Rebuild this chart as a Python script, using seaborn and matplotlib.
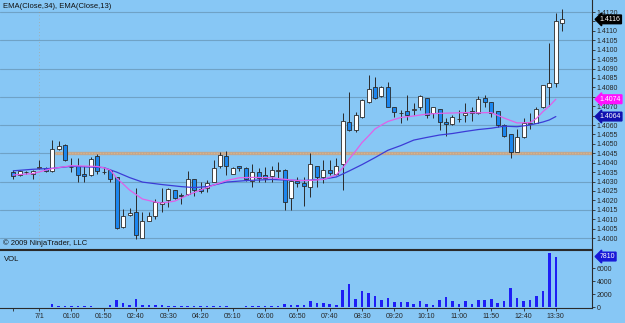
import numpy as np
import pandas as pd
import seaborn as sns
import matplotlib.pyplot as plt
import matplotlib.transforms as mtransforms

# 10-minute bars, 23:30 (prev day) .. 13:40
opens = [1.40352, 1.40333, 1.40350, 1.40340, 1.40370, 1.40373, 1.40356, 1.40473, 1.40492, 1.40379,
         1.40381, 1.40340, 1.40335, 1.40434, 1.40352, 1.40359, 1.40322, 1.40060, 1.40121, 1.40140,
         1.40002, 1.40092, 1.40118, 1.40181, 1.40202, 1.40255, 1.40226, 1.40232, 1.40313, 1.40260,
         1.40264, 1.40299, 1.40382, 1.40435, 1.40341, 1.40381, 1.40373, 1.40303, 1.40352, 1.40335,
         1.40331, 1.40358, 1.40361, 1.40211, 1.40304, 1.40294, 1.40272, 1.40382, 1.40322, 1.40361,
         1.40340, 1.40393, 1.40614, 1.40573, 1.40641, 1.40722, 1.40800, 1.40752, 1.40803, 1.40694,
         1.40664, 1.40673, 1.40682, 1.40694, 1.40742, 1.40662, 1.40683, 1.40616, 1.40604, 1.40634,
         1.40653, 1.40674, 1.40662, 1.40742, 1.40721, 1.40674, 1.40600, 1.40552, 1.40458, 1.40535,
         1.40608, 1.40612, 1.40694, 1.40800, 1.40821, 1.41143]
highs = [1.40360, 1.40362, 1.40357, 1.40360, 1.40414, 1.40376, 1.40522, 1.40515, 1.40497, 1.40425,
         1.40423, 1.40381, 1.40430, 1.40446, 1.40379, 1.40365, 1.40325, 1.40154, 1.40158, 1.40264,
         1.40136, 1.40136, 1.40207, 1.40264, 1.40264, 1.40257, 1.40237, 1.40356, 1.40316, 1.40299,
         1.40308, 1.40414, 1.40458, 1.40462, 1.40376, 1.40384, 1.40376, 1.40391, 1.40370, 1.40379,
         1.40384, 1.40402, 1.40365, 1.40306, 1.40326, 1.40326, 1.40450, 1.40385, 1.40414, 1.40414,
         1.40423, 1.40662, 1.40774, 1.40671, 1.40736, 1.40866, 1.40857, 1.40805, 1.40830, 1.40697,
         1.40680, 1.40759, 1.40718, 1.40757, 1.40745, 1.40698, 1.40686, 1.40639, 1.40652, 1.40680,
         1.40715, 1.40694, 1.40754, 1.40759, 1.40724, 1.40677, 1.40603, 1.40555, 1.40577, 1.40636,
         1.40662, 1.40697, 1.40815, 1.41037, 1.41193, 1.41214]
lows = [1.40313, 1.40328, 1.40341, 1.40313, 1.40365, 1.40349, 1.40350, 1.40466, 1.40408, 1.40352,
        1.40296, 1.40296, 1.40330, 1.40340, 1.40340, 1.40296, 1.40050, 1.40052, 1.40118, 1.39995,
        1.39998, 1.40090, 1.40101, 1.40136, 1.40166, 1.40208, 1.40179, 1.40228, 1.40225, 1.40241,
        1.40246, 1.40296, 1.40373, 1.40335, 1.40338, 1.40356, 1.40303, 1.40271, 1.40297, 1.40299,
        1.40299, 1.40317, 1.40150, 1.40150, 1.40272, 1.40172, 1.40219, 1.40272, 1.40290, 1.40335,
        1.40335, 1.40255, 1.40570, 1.40564, 1.40636, 1.40718, 1.40738, 1.40749, 1.40694, 1.40644,
        1.40612, 1.40627, 1.40653, 1.40680, 1.40636, 1.40636, 1.40573, 1.40542, 1.40600, 1.40618,
        1.40618, 1.40621, 1.40659, 1.40694, 1.40641, 1.40591, 1.40535, 1.40423, 1.40455, 1.40530,
        1.40577, 1.40609, 1.40690, 1.40701, 1.40800, 1.41101]
closes = [1.40331, 1.40357, 1.40353, 1.40354, 1.40379, 1.40356, 1.40473, 1.40490, 1.40413, 1.40376,
          1.40335, 1.40331, 1.40421, 1.40357, 1.40349, 1.40313, 1.40052, 1.40118, 1.40131, 1.40016,
          1.40092, 1.40118, 1.40191, 1.40193, 1.40260, 1.40211, 1.40224, 1.40313, 1.40253, 1.40251,
          1.40290, 1.40373, 1.40441, 1.40382, 1.40373, 1.40370, 1.40312, 1.40352, 1.40320, 1.40320,
          1.40359, 1.40360, 1.40193, 1.40303, 1.40294, 1.40278, 1.40391, 1.40322, 1.40361, 1.40344,
          1.40382, 1.40621, 1.40573, 1.40652, 1.40733, 1.40793, 1.40742, 1.40802, 1.40697, 1.40671,
          1.40666, 1.40652, 1.40684, 1.40754, 1.40653, 1.40694, 1.40614, 1.40604, 1.40641, 1.40632,
          1.40662, 1.40662, 1.40736, 1.40724, 1.40662, 1.40600, 1.40542, 1.40458, 1.40535, 1.40609,
          1.40610, 1.40683, 1.40812, 1.40821, 1.41154, 1.41161]
volumes = [0, 0, 0, 0, 100, 0, 460, 250, 200, 150,
           250, 250, 150, 100, 50, 400, 1130, 600, 360, 1230,
           400, 360, 300, 400, 250, 200, 200, 250, 200, 150,
           150, 250, 250, 250, 0, 0, 200, 250, 150, 150,
           150, 250, 510, 400, 360, 430, 950, 610, 670, 460,
           360, 2620, 3640, 1280, 2510, 2260, 1740, 1130, 1490, 770,
           870, 820, 510, 920, 460, 410, 1130, 1590, 1030, 510,
           970, 510, 1130, 1130, 1280, 620, 1030, 2980, 1440, 970,
           1130, 1690, 2510, 8310, 7810]

# EMA lines (bar index, price)
ema34_bar = [0, 3, 6, 9, 14, 16, 18, 20, 23, 26, 28, 30, 33, 36, 40, 42, 45, 48, 50, 52,
             54, 56, 58, 60, 62, 64, 66, 68, 70, 72, 74, 76, 78, 80, 82, 83, 84]
ema34 = [1.40357, 1.40365, 1.40370, 1.40381, 1.40374, 1.40350, 1.40321, 1.40297, 1.40284, 1.40273,
         1.40268, 1.40273, 1.40297, 1.40305, 1.40311, 1.40308, 1.40305, 1.40313, 1.40324, 1.40356,
         1.40390, 1.40427, 1.40466, 1.40491, 1.40520, 1.40534, 1.40547, 1.40555, 1.40566, 1.40576,
         1.40583, 1.40594, 1.40591, 1.40600, 1.40616, 1.40627, 1.40645]
ema13_bar = [0, 3, 6, 9, 13, 14, 15, 16, 17, 18, 20, 22, 23, 25, 27, 29, 31, 33, 35, 37,
             40, 42, 44, 46, 48, 50, 51, 52, 53, 54, 55, 56, 57, 58, 60, 62, 64, 66, 68, 70,
             72, 74, 76, 78, 80, 81, 82, 83, 84]
ema13 = [1.40335, 1.40342, 1.40369, 1.40384, 1.40380, 1.40373, 1.40361, 1.40319, 1.40287, 1.40255,
         1.40207, 1.40191, 1.40186, 1.40196, 1.40228, 1.40255, 1.40281, 1.40305, 1.40320, 1.40322,
         1.40320, 1.40312, 1.40305, 1.40306, 1.40311, 1.40335, 1.40372, 1.40419, 1.40462, 1.40507,
         1.40542, 1.40579, 1.40600, 1.40619, 1.40640, 1.40648, 1.40658, 1.40662, 1.40664, 1.40666,
         1.40665, 1.40666, 1.40637, 1.40611, 1.40613, 1.40635, 1.40671, 1.40701, 1.40737]

tick_bars = [0, 4, 9, 14, 19, 24, 29, 34, 39, 44, 49, 54, 59, 64, 69, 74, 79, 84]
tick_labels = ['', '7/1', '01:00', '01:50', '02:40', '03:30', '04:20', '05:10', '06:00',
               '06:50', '07:40', '08:30', '09:20', '10:10', '11:00', '11:50', '12:40', '13:30']

df = pd.DataFrame({'open': opens, 'high': highs, 'low': lows, 'close': closes})
df['bar'] = np.arange(len(df))
up = df['close'] >= df['open']

sns.set_style("white")
plt.rcParams['font.family'] = ['Liberation Sans Narrow', 'Liberation Sans', 'DejaVu Sans']

bg = '#87C7F5'
dark = '#2a2a2a'
fig = plt.figure(figsize=(6.25, 3.23), dpi=100, facecolor=bg)
ax = fig.add_axes([0, 0.229, 0.9472, 0.771], facecolor=bg)
axv = fig.add_axes([0, 0.0455, 0.9472, 0.1805], facecolor=bg)

xlim = (-2.06, 89.6)

# price panel
for g in np.arange(1.4000, 1.41201, 0.0015):
    ax.axhline(g, color='#6FA2C6', lw=0.8, zorder=0)
ax.axvline(4, color='#C88A50', lw=0.6, ls=(0, (1, 3)), alpha=0.5, zorder=0)
ax.hlines(1.4045, 6.5, xlim[1], color='#BFA690', lw=2.4, zorder=1)
ax.hlines(1.4045, 6.5, xlim[1], color='#D9B48A', lw=1.0, ls=(0, (1, 1)), zorder=1)

ax.vlines(df['bar'], df['low'], df['high'], color=dark, lw=0.7, zorder=2)
body = np.maximum((df['close'] - df['open']).abs(), 0.00002)
ax.bar(df['bar'], body, bottom=np.minimum(df['open'], df['close']), width=0.62,
       color=np.where(up, 'white', '#1C86EE'), edgecolor=dark, lw=0.6, zorder=3)

sns.lineplot(x=ema34_bar, y=ema34, ax=ax, color='#3C3CD6', lw=0.9, zorder=4)
sns.lineplot(x=ema13_bar, y=ema13, ax=ax, color='#E060E8', lw=0.9, zorder=4)

ax.set_xlim(*xlim)
ax.set_ylim(1.399416, 1.412638)
ax.set_xticks([])
ax.yaxis.tick_right()
yt = np.arange(1.4000, 1.41201, 0.0005)
hidden = ['1.4115', '1.4075', '1.4065']  # covered by the value boxes
ax.set_yticks(yt)
ax.set_yticklabels(['' if f'{v:.4f}' in hidden else f'{v:.4f}' for v in yt])
ax.tick_params(axis='y', labelsize=5, length=2.5, pad=1, width=0.6, color=dark, right=True)
for s in ['top', 'left']:
    ax.spines[s].set_visible(False)
for s in ['right', 'bottom']:
    ax.spines[s].set_color(dark)
    ax.spines[s].set_linewidth(0.8)

ax.text(0.005, 0.975, 'EMA(Close,34), EMA(Close,13)', transform=ax.transAxes,
        fontsize=5.5, va='center', ha='left', color='#111111')
ax.text(0.005, 0.022, '\u00a9 2009 NinjaTrader, LLC', transform=ax.transAxes,
        fontsize=5.5, va='center', ha='left', color='#111111')

tr = mtransforms.blended_transform_factory(ax.transAxes, ax.transData)
for val, fc in [(closes[-1], 'black'), (ema13[-1], '#FF10FF'), (ema34[-1], '#1010B0')]:
    ax.text(1.013, val, f'{val:.4f}', transform=tr, fontsize=5, color='white',
            va='center', ha='left', clip_on=False, zorder=6,
            bbox=dict(boxstyle='larrow,pad=0.12', fc=fc, ec=fc))

# volume panel
axv.bar(np.arange(len(volumes)), volumes, width=0.4, color='#1E1EF5', lw=0)
axv.set_xlim(*xlim)
axv.set_ylim(-154, 8815)
axv.set_xticks(tick_bars)
axv.set_xticklabels(tick_labels)
axv.yaxis.tick_right()
axv.set_yticks([0, 2000, 4000, 6000])
axv.tick_params(axis='both', labelsize=5, length=2.5, pad=1, width=0.6, color=dark)
axv.tick_params(axis='x', bottom=True)
axv.tick_params(axis='y', right=True)
axv.spines['left'].set_visible(False)
for s in ['right', 'bottom', 'top']:
    axv.spines[s].set_color(dark)
    axv.spines[s].set_linewidth(0.8)
axv.text(0.007, 0.84, 'VOL', transform=axv.transAxes, fontsize=5.5, va='center',
         ha='left', color='#111111')
trv = mtransforms.blended_transform_factory(axv.transAxes, axv.transData)
axv.text(1.013, volumes[-1], f'{volumes[-1]}', transform=trv, fontsize=5, color='white',
         va='center', ha='left', clip_on=False,
         bbox=dict(boxstyle='larrow,pad=0.12', fc='#1818D8', ec='#1818D8'))

fig.savefig('out.png', dpi=100, facecolor=bg)
